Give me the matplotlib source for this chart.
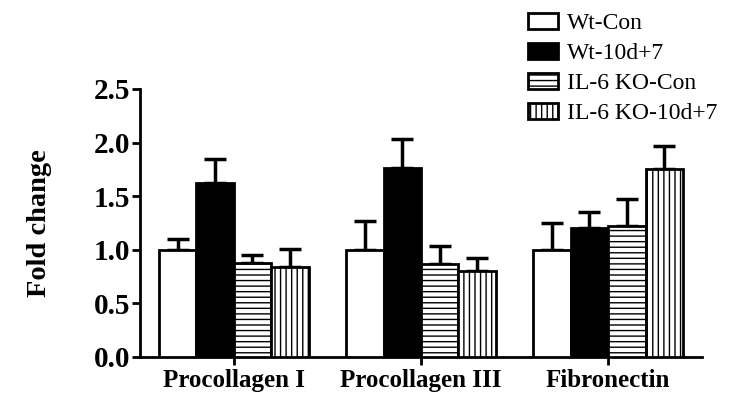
import numpy as np
import matplotlib.pyplot as plt
from matplotlib.patches import Patch

genes = ["Procollagen I", "Procollagen III", "Fibronectin"]
groups = ["Wt-Con", "Wt-10d+7", "IL-6 KO-Con", "IL-6 KO-10d+7"]
means = {
    "Wt-Con": [1.00, 1.00, 1.00],
    "Wt-10d+7": [1.62, 1.76, 1.20],
    "IL-6 KO-Con": [0.88, 0.87, 1.22],
    "IL-6 KO-10d+7": [0.84, 0.80, 1.75],
}
errors = {
    "Wt-Con": [0.10, 0.27, 0.25],
    "Wt-10d+7": [0.23, 0.27, 0.15],
    "IL-6 KO-Con": [0.07, 0.16, 0.25],
    "IL-6 KO-10d+7": [0.17, 0.12, 0.22],
}
y_ticks = [0.0, 0.5, 1.0, 1.5, 2.0, 2.5]

plt.rcParams['font.family'] = ['Liberation Serif', 'DejaVu Serif']

fills = ["white", "black", "white", "white"]
hatches = [None, None, "---", "|||"]

fig = plt.figure(figsize=(7.34, 3.97), dpi=100)
ax = fig.add_axes([0.191, 0.101, 0.765, 0.675])

x = np.arange(len(genes))
width = 0.2
for i, g in enumerate(groups):
    pos = x + (i - 1.5) * width
    ax.bar(pos, means[g], width, color=fills[i], edgecolor="black",
           linewidth=2, hatch=hatches[i], zorder=3)
    ax.errorbar(pos, means[g], yerr=[np.zeros(3), errors[g]], fmt="none",
                ecolor="black", elinewidth=2.5, capsize=8, capthick=2.5, zorder=2)

ax.set_xlim(-0.5, 2.5)
ax.set_ylim(0, 2.5)
ax.set_yticks(y_ticks)
ax.set_yticklabels(["%.1f" % t for t in y_ticks], fontsize=21, fontweight="bold")
ax.set_xticks(x)
ax.set_xticklabels(genes, fontsize=18, fontweight="bold")
ax.tick_params(axis="both", width=2, length=6, direction="out")
ax.tick_params(axis="y", pad=1)
ax.tick_params(axis="x", pad=3)
ax.set_ylabel("Fold change", fontsize=20.5, fontweight="bold", labelpad=30)
for s in ["top", "right"]:
    ax.spines[s].set_visible(False)
for s in ["left", "bottom"]:
    ax.spines[s].set_linewidth(2)

handles = [Patch(facecolor=fills[i], edgecolor="black", linewidth=2,
                 hatch=hatches[i], label=g) for i, g in enumerate(groups)]
fig.legend(handles=handles, loc="upper left", bbox_to_anchor=(0.719, 0.967),
           frameon=False, fontsize=17, handlelength=1.3, handleheight=0.66,
           handletextpad=0.35, labelspacing=0.37, borderpad=0, borderaxespad=0)

fig.savefig("out.png", dpi=100)
